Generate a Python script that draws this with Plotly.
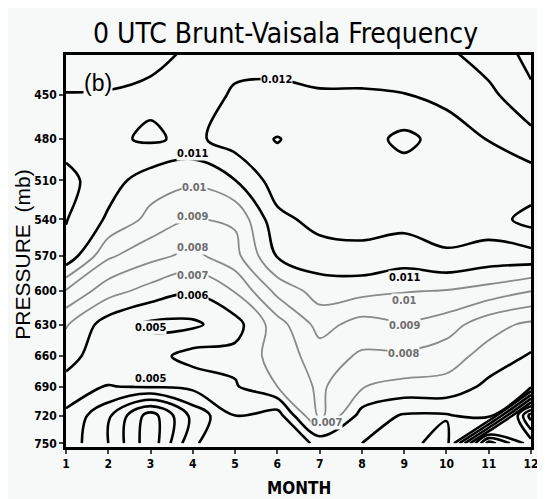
import numpy as np
import plotly.graph_objects as go

# month / pressure grid
months = [1, 2, 3, 4, 5, 6, 7, 8, 9, 10, 11, 12]
pressure = [420, 450, 480, 510, 540, 570, 600, 630, 660, 690, 720, 750]
pressure_ticks = [450, 480, 510, 540, 570, 600, 630, 660, 690, 720, 750]

# Brunt-Vaisala frequency (x 1e-3 s^-1), one list per pressure level, months 1..12
n_420 = [12.8, 12.6, 12.3, 11.9, 11.7, 11.8, 11.7, 11.7, 11.7, 11.9, 12.7, 13.2]
n_450 = [11.95, 11.93, 11.8, 11.6, 12.1, 12.1, 12.05, 12.05, 12.02, 11.7, 11.7, 12.9]
n_480 = [11.6, 11.8, 12.15, 11.75, 12.5, 13.05, 12.5, 12.6, 13.25, 12.6, 11.95, 11.6]
n_510 = [12.3, 11.4, 10.5, 10.2, 10.98, 12.5, 12.4, 12.5, 12.5, 12.45, 12.9, 12.3]
n_540 = [12.05, 10.85, 9.7, 9.0, 9.14, 11.75, 12.3, 12.2, 12.3, 12.2, 12.5, 13.4]
n_570 = [11.7, 9.15, 8.3, 7.69, 8.67, 11.05, 11.6, 11.85, 11.5, 11.94, 11.6, 11.6]
n_600 = [8.9, 7.4, 6.6, 6.1, 7.05, 9.3, 10.42, 10.3, 10.05, 9.93, 9.6, 9.0]
n_630 = [7.1, 5.49, 4.8, 4.8, 5.6, 7.55, 9.38, 8.6, 8.9, 8.5, 7.35, 6.8]
n_660 = [6.4, 5.3, 5.6, 6.4, 6.3, 7.4, 8.5, 7.85, 7.82, 7.4, 6.65, 5.88]
n_690 = [5.6, 4.97, 5.1, 5.26, 5.9, 7.0, 8.2, 7.05, 6.7, 6.7, 5.72, 5.2]
n_720 = [4.8, 3.2, 0.5, 3.3, 5.0, 4.5, 8.3, 5.6, 4.9, 4.9, 5.5, -2.5]
n_750 = [4.6, 3.0, 0.3, 3.9, 4.6, 4.3, 5.2, 5.0, 4.7, 5.4, -2.5, 0.5]

rows = [n_420, n_450, n_480, n_510, n_540, n_570, n_600, n_630, n_660, n_690, n_720, n_750]
z = np.array(rows) * 1e-3

# contour labels as printed on the chart: (text, month, pressure)
labels_black = [("0.012", 5.98, 440), ("0.011", 3.99, 490), ("0.011", 9.0, 588),
                ("0.006", 4.0, 604), ("0.005", 2.99, 633), ("0.005", 3.0, 682)]
labels_gray = [("0.01", 4.04, 515), ("0.009", 4.0, 538), ("0.008", 4.0, 563),
               ("0.007", 4.0, 586), ("0.01", 9.0, 608), ("0.009", 9.0, 631),
               ("0.008", 8.98, 657), ("0.007", 7.17, 727)]

BG = "#f7f8f8"
GRAY = "#8a8a8a"
NARROW = "Liberation Sans Narrow, DejaVu Sans Condensed, Arial Narrow, Arial, sans-serif"


def contour(start, end, color, width):
    return go.Contour(
        x=months, y=pressure, z=z,
        autocontour=False,
        contours=dict(start=start, end=end, size=0.001, coloring="none", showlabels=False),
        line=dict(color=color, width=width, smoothing=1),
        showscale=False,
        hoverinfo="skip",
    )


fig = go.Figure()
fig.add_trace(contour(0.007, 0.01005, GRAY, 1.8))      # 0.007 .. 0.010 grey
fig.add_trace(contour(0.011, 0.01305, "black", 2.6))   # 0.011 .. 0.013
fig.add_trace(contour(-0.003, 0.00605, "black", 2.6))  # .. 0.006

annotations = []
for labels, color in ((labels_black, "black"), (labels_gray, "#6e6e6e")):
    for text, m, p in labels:
        annotations.append(dict(
            text=text, x=m, y=np.log10(p), xref="x", yref="y",
            showarrow=False, bgcolor=BG, borderpad=0,
            font=dict(size=11, color=color, family=NARROW, weight="bold"),
        ))

annotations += [
    dict(text="0 UTC Brunt-Vaisala Frequency", xref="paper", yref="paper",
         x=0.471, y=1.056, xanchor="center", yanchor="middle", showarrow=False,
         font=dict(size=28, color="black", family=NARROW)),
    dict(text="PRESSURE  (mb)", xref="paper", yref="paper",
         x=-0.093, y=0.49, xanchor="center", yanchor="middle",
         textangle=-90, showarrow=False,
         font=dict(size=21, color="black", family="Liberation Sans, Arial, sans-serif")),
    dict(text="MONTH", xref="paper", yref="paper",
         x=0.501, y=-0.105, xanchor="center", yanchor="middle", showarrow=False,
         font=dict(size=17, color="black", family=NARROW, weight="bold")),
    dict(text="(b)", xref="paper", yref="paper",
         x=0.068, y=0.929, xanchor="center", yanchor="middle",
         showarrow=False, bgcolor=BG, borderpad=0,
         font=dict(size=23, color="black", family="Liberation Sans, Arial, sans-serif")),
]

# page body has an 8 px margin, so the figure is offset by (8, 8) in the window
fig.update_layout(
    width=537, height=491,
    margin=dict(l=58, r=6, t=47, b=52),
    paper_bgcolor=BG, plot_bgcolor=BG,
    showlegend=False,
    xaxis=dict(
        range=[1, 12], tickvals=months, ticks="outside", ticklen=4, tickwidth=2,
        showline=True, linecolor="black", linewidth=2.5, mirror=True,
        showgrid=False, zeroline=False,
        tickfont=dict(size=12, color="black", family=NARROW, weight="bold"),
    ),
    yaxis=dict(
        type="log", range=[np.log10(754), np.log10(424.3)],
        tickvals=pressure_ticks, ticktext=[str(p) for p in pressure_ticks],
        ticks="outside", ticklen=4, tickwidth=2,
        showline=True, linecolor="black", linewidth=2.5, mirror=True,
        showgrid=False, zeroline=False,
        tickfont=dict(size=12, color="black", family=NARROW, weight="bold"),
    ),
    annotations=annotations,
)

fig.write_html("out.html")
